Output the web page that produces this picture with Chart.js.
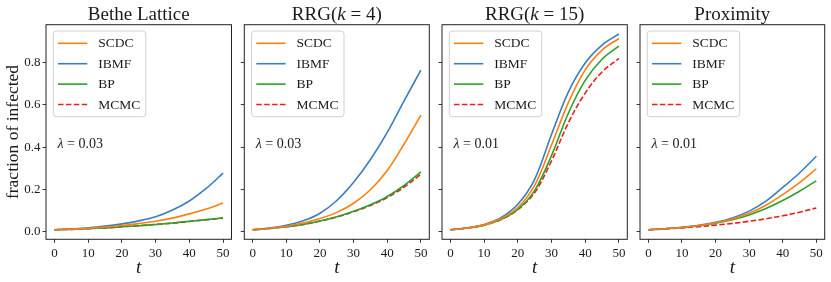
<!DOCTYPE html>
<html><head><meta charset="utf-8">
<script src="https://cdn.jsdelivr.net/npm/chart.js@4.4.1/dist/chart.umd.min.js"></script>
<style>
body{margin:0;background:#fff;}
#wrap{position:relative;width:831px;height:282px;overflow:hidden;background:#fff;}
canvas{position:absolute;top:0;}
</style>
</head><body><div id="wrap"></div>
<script>
// ---- data ----
const tValues = [0,5,10,15,20,25,30,35,40,45,50];
const xTicks = [0,10,20,30,40,50];
const yTicks = [0,0.2,0.4,0.6,0.8];
const yTickLabels = ['0.0','0.2','0.4','0.6','0.8'];
const seriesNames = ['SCDC','IBMF','BP','MCMC'];
const panelTitles = [
  [['Bethe Lattice',false]],
  [['RRG(',false],['k',true],[' = 4)',false]],
  [['RRG(',false],['k',true],[' = 15)',false]]
  ,[['Proximity',false]]
];
const lambdaValues = ['0.03','0.03','0.01','0.01'];
const yAxisLabel = 'fraction of infected';
const xAxisLabel = 't';

const betheSCDC = [0.010,0.013,0.017,0.023,0.030,0.039,0.050,0.065,0.085,0.108,0.136];
const betheIBMF = [0.010,0.014,0.019,0.027,0.038,0.052,0.071,0.103,0.146,0.205,0.277];
const betheBP   = [0.010,0.012,0.015,0.019,0.024,0.029,0.035,0.042,0.050,0.058,0.066];
const betheMCMC = [0.010,0.012,0.015,0.019,0.024,0.029,0.035,0.041,0.049,0.057,0.065];

const rrg4SCDC = [0.010,0.016,0.027,0.042,0.063,0.092,0.135,0.199,0.290,0.415,0.551];
const rrg4IBMF = [0.010,0.018,0.031,0.052,0.088,0.148,0.234,0.342,0.470,0.618,0.764];
const rrg4BP   = [0.010,0.016,0.024,0.035,0.051,0.071,0.097,0.128,0.167,0.219,0.283];
const rrg4MCMC = [0.010,0.016,0.024,0.035,0.051,0.070,0.095,0.125,0.162,0.211,0.272];

const rrg15SCDC = [0.010,0.018,0.033,0.062,0.115,0.220,0.410,0.610,0.765,0.858,0.913];
const rrg15IBMF = [0.010,0.019,0.035,0.067,0.130,0.248,0.460,0.660,0.797,0.882,0.934];
const rrg15BP   = [0.010,0.018,0.032,0.058,0.106,0.195,0.360,0.560,0.715,0.815,0.877];
const rrg15MCMC = [0.010,0.018,0.032,0.058,0.105,0.185,0.335,0.515,0.655,0.755,0.819];

const proxSCDC = [0.010,0.015,0.021,0.030,0.043,0.061,0.088,0.126,0.176,0.233,0.298];
const proxIBMF = [0.010,0.015,0.022,0.031,0.045,0.066,0.098,0.145,0.210,0.278,0.357];
const proxBP   = [0.010,0.015,0.021,0.029,0.041,0.057,0.080,0.110,0.148,0.192,0.241];
const proxMCMC = [0.010,0.014,0.019,0.025,0.032,0.040,0.050,0.062,0.076,0.093,0.113];

const panelSeries = [
  [betheSCDC,betheIBMF,betheBP,betheMCMC],
  [rrg4SCDC,rrg4IBMF,rrg4BP,rrg4MCMC],
  [rrg15SCDC,rrg15IBMF,rrg15BP,rrg15MCMC],
  [proxSCDC,proxIBMF,proxBP,proxMCMC]
];

// ---- styles ----
const colors = ['#ff7f0e','#3a7fbd','#2ca02c','#ee1c1c'];
const dashes = [[],[],[],[5.5,2.4]];
const FONT = "'Liberation Serif','DejaVu Serif',serif";
const TXT = '#1a1a1a';
const plotLefts  = [46.0, 244.3, 442.0, 640.0];
const plotRights = [231.5, 429.3, 627.3, 824.7];
const PLOT_TOP = 24.7, PLOT_BOTTOM = 239.3, H = 282;

const deco = {
  id:'deco',
  afterDatasetsDraw(chart, args, o){
    const ctx = chart.ctx, a = chart.chartArea;
    ctx.save();
    // axes box
    ctx.strokeStyle = '#222'; ctx.lineWidth = 1;
    ctx.strokeRect(a.left, a.top, a.right-a.left, a.bottom-a.top);
    // title with mixed italics
    ctx.fillStyle = TXT; ctx.textBaseline = 'alphabetic';
    let total = 0;
    const parts = o.title.map(([s,it])=>{
      ctx.font = (it?'italic ':'') + '19px ' + FONT;
      const w = ctx.measureText(s).width; total += w; return [s,it,w];
    });
    let x = (a.left+a.right)/2 - total/2;
    parts.forEach(([s,it,w])=>{
      ctx.font = (it?'italic ':'') + '19px ' + FONT;
      ctx.textAlign='left'; ctx.fillText(s, x, 19.5); x += w;
    });
    // lambda annotation
    ctx.textBaseline = 'middle'; ctx.textAlign='left';
    ctx.font = 'italic 14px ' + FONT;
    let lx = a.left + 11.5;
    ctx.fillText('λ', lx, 144); lx += ctx.measureText('λ').width;
    ctx.font = '14px ' + FONT;
    ctx.fillText(' = ' + o.lambda, lx, 144);
    // legend
    const bx = a.left + 7.3, by = 31, bw = 92.4, bh = 85.7, r = 3;
    ctx.beginPath();
    ctx.moveTo(bx+r,by); ctx.lineTo(bx+bw-r,by); ctx.arcTo(bx+bw,by,bx+bw,by+r,r);
    ctx.lineTo(bx+bw,by+bh-r); ctx.arcTo(bx+bw,by+bh,bx+bw-r,by+bh,r);
    ctx.lineTo(bx+r,by+bh); ctx.arcTo(bx,by+bh,bx,by+bh-r,r);
    ctx.lineTo(bx,by+r); ctx.arcTo(bx,by,bx+r,by,r); ctx.closePath();
    ctx.fillStyle = 'rgba(255,255,255,0.8)'; ctx.fill();
    ctx.strokeStyle = '#d0d0d0'; ctx.lineWidth = 1; ctx.stroke();
    chart.data.datasets.forEach((ds,i)=>{
      const y = 43.3 + i*20.4;
      ctx.beginPath(); ctx.setLineDash(ds.borderDash||[]);
      ctx.strokeStyle = ds.borderColor; ctx.lineWidth = ds.borderWidth;
      ctx.moveTo(a.left+12, y); ctx.lineTo(a.left+41.3, y); ctx.stroke();
      ctx.setLineDash([]);
      ctx.fillStyle = TXT; ctx.font = '13.5px ' + FONT; ctx.textBaseline='middle';
      ctx.fillText(ds.label, a.left+52.3, y+0.5);
    });
    // axis labels
    ctx.fillStyle = TXT;
    ctx.font = 'italic 19px ' + FONT; ctx.textAlign='center'; ctx.textBaseline='middle';
    ctx.fillText(xAxisLabel, (a.left+a.right)/2, 268);
    if (o.yLabel){
      ctx.save(); ctx.translate(13.5, 132); ctx.rotate(-Math.PI/2);
      ctx.font = '17.5px ' + FONT; ctx.fillText(yAxisLabel, 0, 0); ctx.restore();
    }
    ctx.restore();
  }
};

const wrap = document.getElementById('wrap');
for (let p=0; p<4; p++){
  const canvasLeft = Math.floor(plotLefts[p]) - 46;
  const axisW = plotLefts[p] - canvasLeft;
  const rightPad = 6;
  const cw = Math.ceil(plotRights[p] - canvasLeft + rightPad);
  const padRight = cw - (plotRights[p] - canvasLeft);
  const cv = document.createElement('canvas');
  cv.width = cw; cv.height = H; cv.style.left = canvasLeft+'px';
  cv.style.width = cw+'px'; cv.style.height = H+'px';
  wrap.appendChild(cv);
  const datasets = panelSeries[p].map((vals,i)=>({
    label: seriesNames[i],
    data: tValues.map((t,j)=>({x:t, y:vals[j]})),
    borderColor: colors[i], borderWidth: 1.6, borderDash: dashes[i],
    pointRadius: 0, fill:false, tension:0.35
  }));
  new Chart(cv, {
    type:'line',
    data:{datasets},
    options:{
      responsive:false, animation:false, devicePixelRatio:1,
      layout:{padding:{top:PLOT_TOP, right:padRight, left:0, bottom:0}},
      plugins:{legend:{display:false}, title:{display:false}, tooltip:{enabled:false},
        deco:{title:panelTitles[p], lambda:lambdaValues[p], yLabel:p===0}},
      scales:{
        x:{type:'linear', min:-2.5, max:52.5,
          afterBuildTicks:s=>{s.ticks = xTicks.map(v=>({value:v}));},
          afterFit:s=>{s.height = H - PLOT_BOTTOM;},
          border:{display:false},
          grid:{drawOnChartArea:false, drawTicks:true, tickLength:3.5, color:'#222', lineWidth:0.9},
          ticks:{color:TXT, font:{family:FONT, size:13}, padding:3, maxRotation:0, autoSkip:false,
            callback:(v)=>String(v)}
        },
        y:{type:'linear', min:-0.035, max:0.978,
          afterBuildTicks:s=>{s.ticks = yTicks.map(v=>({value:v}));},
          afterFit:s=>{s.width = axisW;},
          border:{display:false},
          grid:{drawOnChartArea:false, drawTicks:true, tickLength:3.5, color:'#222', lineWidth:0.9},
          ticks:{display:p===0, color:TXT, font:{family:FONT, size:13}, padding:2, autoSkip:false,
            callback:(v,i)=>yTickLabels[i]}
        }
      }
    },
    plugins:[deco]
  });
}
</script>
</body></html>
